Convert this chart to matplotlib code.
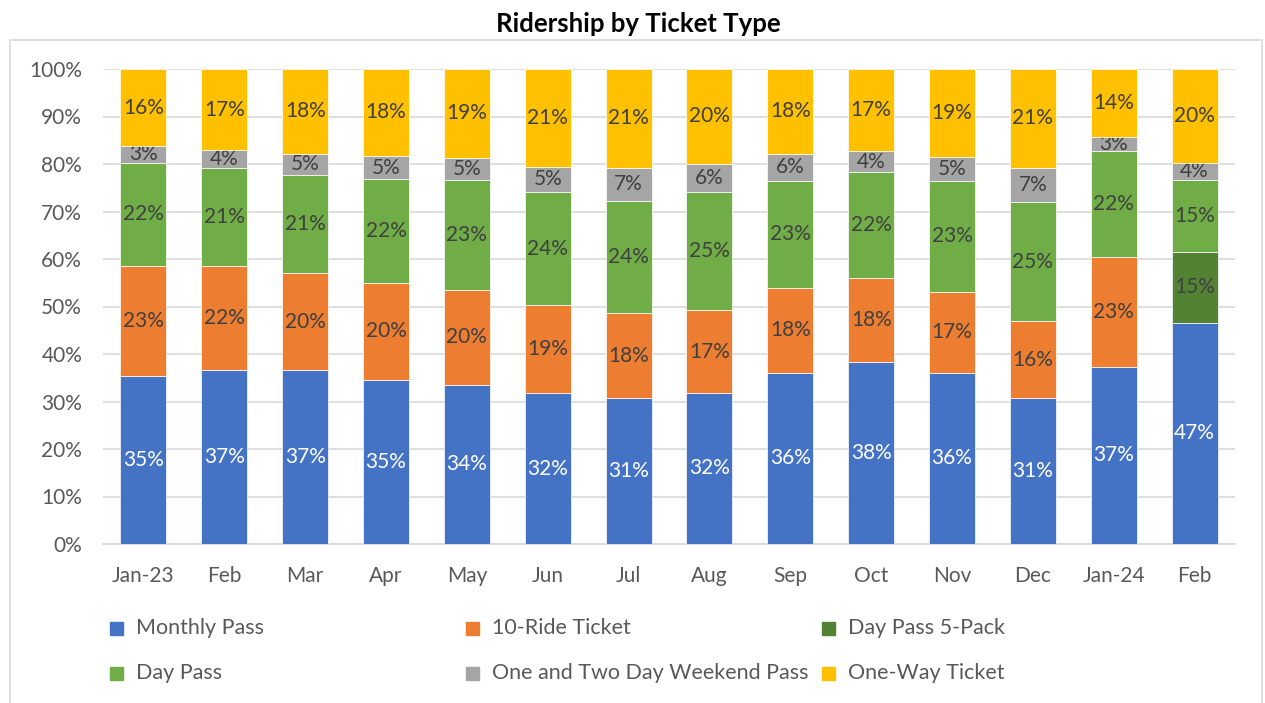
import matplotlib.pyplot as plt
from matplotlib.patches import Rectangle

plt.rcParams['font.family'] = ['Lato', 'DejaVu Sans']

# months and share of riders by ticket type (percent)
months = ['Jan-23', 'Feb', 'Mar', 'Apr', 'May', 'Jun', 'Jul', 'Aug', 'Sep', 'Oct', 'Nov', 'Dec', 'Jan-24', 'Feb']
monthly_pass = [35.3, 36.6, 36.6, 34.6, 33.5, 31.7, 30.7, 31.8, 36.0, 38.3, 36.0, 30.7, 37.3, 46.6]
ten_ride = [23.2, 21.9, 20.4, 20.4, 20.0, 18.6, 17.9, 17.4, 17.9, 17.7, 17.1, 16.2, 23.2, 0.0]
day_pass_5 = [0, 0, 0, 0, 0, 0, 0, 0, 0, 0, 0, 0, 0, 14.9]
day_pass = [21.8, 20.6, 20.6, 21.8, 23.1, 23.8, 23.6, 25.0, 22.6, 22.3, 23.3, 25.1, 22.3, 15.2]
weekend = [3.4, 3.8, 4.6, 4.9, 4.7, 5.3, 7.0, 5.9, 5.7, 4.4, 5.0, 7.2, 2.8, 3.5]
one_way = [16.3, 17.1, 17.8, 18.3, 18.7, 20.6, 20.8, 19.9, 17.8, 17.3, 18.6, 20.8, 14.4, 19.8]

series = [
    ('Monthly Pass', monthly_pass, '#4472C4', 'white'),
    ('10-Ride Ticket', ten_ride, '#ED7D31', '#404040'),
    ('Day Pass 5-Pack', day_pass_5, '#548235', '#404040'),
    ('Day Pass', day_pass, '#70AD47', '#404040'),
    ('One and Two Day Weekend Pass', weekend, '#A5A5A5', '#404040'),
    ('One-Way Ticket', one_way, '#FFC000', '#404040'),
]

W, H = 1265, 703
fig = plt.figure(figsize=(W / 100, H / 100), dpi=100)
ax = fig.add_axes([103 / W, 1 - 544 / H, 1132 / W, 475 / H])

# outer chart border
fig.patches.append(Rectangle((10 / W, -0.05), 1252 / W, 1 - 40 / H + 0.05,
                             transform=fig.transFigure, fill=False,
                             edgecolor='#D9D9D9', linewidth=1.2))

x = list(range(len(months)))
bottom = [0.0] * len(months)
for name, vals, color, tcolor in series:
    bars = ax.bar(x, vals, 0.57, bottom=bottom, color=color, label=name,
                  edgecolor='white', linewidth=0.5, zorder=3)
    labels = ['{:.0f}%'.format(v) if v > 0 else '' for v in vals]
    ax.bar_label(bars, labels=labels, label_type='center', color=tcolor, fontsize=15)
    bottom = [b + v for b, v in zip(bottom, vals)]

ax.set_xlim(-0.5, len(months) - 0.5)
ax.set_ylim(0, 100)
ax.set_yticks(range(0, 101, 10))
ax.set_yticklabels(['{}%'.format(t) for t in range(0, 101, 10)])
ax.set_xticks(x)
ax.set_xticklabels(months)
ax.tick_params(axis='both', length=0, labelsize=15, labelcolor='#595959')
ax.tick_params(axis='x', pad=16)
ax.tick_params(axis='y', pad=15)
ax.grid(axis='y', color='#D9D9D9', linewidth=1.2, zorder=0)
for s in ['top', 'right', 'left']:
    ax.spines[s].set_visible(False)
ax.spines['bottom'].set_color('#D9D9D9')
ax.spines['bottom'].set_linewidth(1.2)

fig.text(638 / W, 1 - 24 / H, 'Ridership by Ticket Type', ha='center', va='center',
         fontsize=18.5, fontweight='bold', color='black')

# legend laid out like Excel: 3 evenly spaced columns, filled row by row
for i, (name, vals, color, tcolor) in enumerate(series):
    px = 110 + 356 * (i % 3)
    py = 628 + 45 * (i // 3)
    fig.patches.append(Rectangle((px / W, 1 - (py + 6.5) / H), 13 / W, 13 / H,
                                 transform=fig.transFigure, color=color))
    fig.text((px + 26) / W, 1 - py / H, name, ha='left', va='center',
             fontsize=15.5, color='#595959')

fig.savefig('out.png', dpi=100)
